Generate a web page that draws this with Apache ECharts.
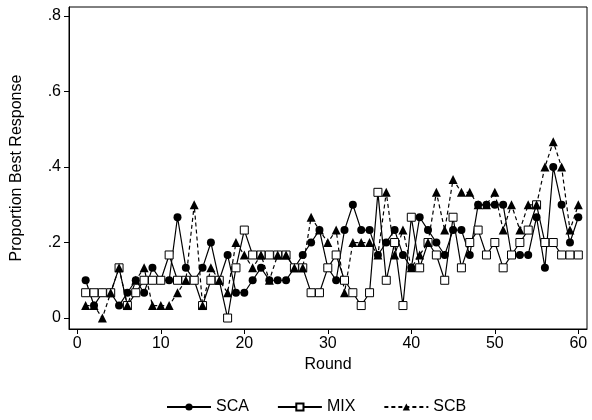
<!DOCTYPE html>
<html>
<head>
<meta charset="utf-8">
<script src="https://cdn.jsdelivr.net/npm/echarts@6/dist/echarts.min.js"></script>
<style>
html,body{margin:0;padding:0;background:#fff;}
#chart{width:592px;height:420px;}
</style>
</head>
<body>
<div id="chart"></div>
<script>
const rounds = [1,2,3,4,5,6,7,8,9,10,11,12,13,14,15,16,17,18,19,20,21,22,23,24,25,26,27,28,29,30,31,32,33,34,35,36,37,38,39,40,41,42,43,44,45,46,47,48,49,50,51,52,53,54,55,56,57,58,59,60];
const SCA = [0.1,0.033,0.067,0.067,0.033,0.067,0.1,0.067,0.133,0.1,
             0.1,0.267,0.133,0.1,0.133,0.2,0.1,0.167,0.067,0.067,
             0.1,0.133,0.1,0.1,0.1,0.133,0.167,0.2,0.233,0.133,
             0.1,0.233,0.3,0.233,0.233,0.167,0.2,0.233,0.167,0.133,
             0.267,0.233,0.2,0.167,0.233,0.233,0.167,0.3,0.3,0.3,
             0.3,0.167,0.167,0.167,0.267,0.133,0.4,0.3,0.2,0.267];
const MIX = [0.067,0.067,0.067,0.067,0.133,0.033,0.067,0.1,0.1,0.1,
             0.167,0.1,0.1,0.1,0.033,0.1,0.1,0,0.133,0.233,
             0.167,0.167,0.167,0.167,0.167,0.133,0.133,0.067,0.067,0.133,
             0.167,0.1,0.067,0.033,0.067,0.333,0.1,0.2,0.033,0.267,
             0.133,0.2,0.167,0.1,0.267,0.133,0.2,0.233,0.167,0.2,
             0.133,0.167,0.2,0.233,0.3,0.2,0.2,0.167,0.167,0.167];
const SCB = [0.033,0.033,0,0.067,0.133,0.033,0.1,0.133,0.033,0.033,
             0.033,0.067,0.1,0.3,0.033,0.133,0.1,0.067,0.2,0.167,
             0.133,0.167,0.1,0.167,0.167,0.133,0.133,0.267,0.233,0.2,
             0.233,0.067,0.2,0.2,0.2,0.167,0.333,0.167,0.233,0.133,
             0.167,0.2,0.333,0.233,0.367,0.333,0.333,0.3,0.3,0.333,
             0.233,0.3,0.233,0.3,0.3,0.4,0.467,0.4,0.233,0.3];
const xTicks = [0,10,20,30,40,50,60];
const yTicks = [0,0.2,0.4,0.6,0.8];
const yTickLabels = ['0','.2','.4','.6','.8'];

const font = 'Liberation Sans, Arial, sans-serif';
const chart = echarts.init(document.getElementById('chart'), null, {renderer:'canvas'});
const toPairs = arr => rounds.map((r,i)=>[r, arr[i]]);
const lineBase = {type:'line', animation:false, emphasis:{disabled:true}, z:2};

chart.setOption({
  animation:false,
  backgroundColor:'#fff',
  grid:{left:69, right:5, top:7, bottom:91, show:true, borderColor:'#000', borderWidth:1, backgroundColor:'#fff'},
  xAxis:{
    type:'value', min:-0.994, max:61.04,
    axisLine:{show:true, onZero:false, lineStyle:{color:'#000', width:1}},
    axisTick:{show:true, customValues:xTicks, length:5, lineStyle:{color:'#000'}},
    axisLabel:{customValues:xTicks, color:'#000', fontSize:16, fontFamily:font, margin:7},
    splitLine:{show:false},
    name:'Round', nameLocation:'middle', nameGap:27,
    nameTextStyle:{color:'#000', fontSize:16, fontFamily:font}
  },
  yAxis:{
    type:'value', min:-0.0291, max:0.824,
    axisLine:{show:true, onZero:false, lineStyle:{color:'#000', width:1}},
    axisTick:{show:true, customValues:yTicks, length:5, lineStyle:{color:'#000'}},
    axisLabel:{customValues:yTicks, color:'#000', fontSize:16, fontFamily:font, margin:8,
      formatter:v=>{const i=yTicks.findIndex(t=>Math.abs(t-v)<1e-9);return i>=0?yTickLabels[i]:'';}},
    splitLine:{show:false},
    name:'Proportion Best Response', nameLocation:'middle', nameGap:44,
    nameTextStyle:{color:'#000', fontSize:16, fontFamily:font}
  },
  legend:{
    bottom:0, left:161, itemWidth:44, itemHeight:9, itemGap:28,
    textStyle:{color:'#000', fontSize:16, fontFamily:font},
    data:['SCA','MIX','SCB']
  },
  series:[
    Object.assign({}, lineBase, {name:'SCA', data:toPairs(SCA), symbol:'circle', symbolSize:8,
      itemStyle:{color:'#000'}, lineStyle:{color:'#000', width:1.2}}),
    Object.assign({}, lineBase, {name:'MIX', data:toPairs(MIX), symbol:'rect', symbolSize:8,
      itemStyle:{color:'#fff', borderColor:'#000', borderWidth:1}, lineStyle:{color:'#000', width:1.2}}),
    Object.assign({}, lineBase, {name:'SCB', data:toPairs(SCB), symbol:'triangle', symbolSize:9,
      itemStyle:{color:'#000'}, lineStyle:{color:'#000', width:1.2, type:[4,3]}})
  ]
});
</script>
</body>
</html>
